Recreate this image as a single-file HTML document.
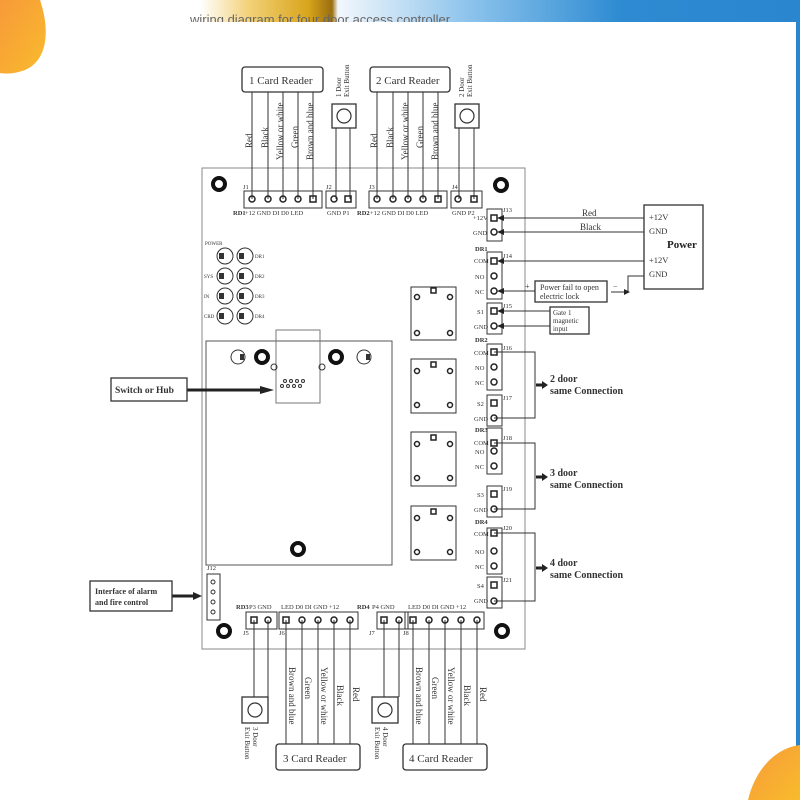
<!DOCTYPE html>
<html><head><meta charset="utf-8"><style>
html,body{margin:0;padding:0;background:#fff;}
svg{display:block;}
text{font-family:"Liberation Serif",serif;fill:#333;}
.s{font-family:"Liberation Sans",sans-serif;}
</style></head><body>
<svg width="800" height="800" viewBox="0 0 800 800" xmlns="http://www.w3.org/2000/svg">
<defs>
<linearGradient id="ban" x1="0" x2="1" y1="0" y2="0">
<stop offset="0" stop-color="#fff"/><stop offset="0.08" stop-color="#f3d27a"/><stop offset="0.18" stop-color="#d9a51c"/><stop offset="0.22" stop-color="#9a6e10"/><stop offset="0.23" stop-color="#f2f7fc"/><stop offset="0.45" stop-color="#8cc3ec"/><stop offset="0.7" stop-color="#2e8bd2"/><stop offset="1" stop-color="#2a86cf"/>
</linearGradient>
<linearGradient id="org" x1="0" x2="1" y1="0" y2="1"><stop offset="0" stop-color="#f79a3a"/><stop offset="1" stop-color="#f8bb2c"/></linearGradient>
</defs>
<rect x="200" y="0" width="600" height="22" fill="url(#ban)"/>
<rect x="796" y="22" width="4" height="778" fill="#2a86cf"/>
<path d="M0,0 L40,0 C50,30 48,60 25,70 C15,74 5,74 0,73 z" fill="url(#org)"/>
<path d="M800,745 C775,748 755,770 748,800 L800,800 z" fill="url(#org)"/>
<text x="190" y="24" class="s" font-size="13" style="fill:#666">wiring diagram for four door access controller</text>
<rect x="180" y="22" width="616" height="10" fill="#fff"/>

<g stroke="#333" fill="none" stroke-width="1">
<rect x="202" y="168" width="323" height="481" stroke="#888"/>
<rect x="206" y="341" width="186" height="224" stroke="#555"/>
<rect x="276" y="330" width="44" height="73" stroke="#777"/>
<rect x="411" y="287" width="45" height="53"/><rect x="411" y="359" width="45" height="54"/><rect x="411" y="432" width="45" height="54"/><rect x="411" y="506" width="45" height="54"/>
<rect x="244" y="191" width="78" height="17"/><rect x="326" y="191" width="30" height="17"/><rect x="369" y="191" width="78" height="17"/><rect x="451" y="191" width="31" height="17"/>
<rect x="487" y="209" width="15" height="32"/><rect x="487" y="252" width="15" height="47"/><rect x="487" y="303" width="15" height="31"/>
<rect x="487" y="344" width="15" height="46"/><rect x="487" y="395" width="15" height="31"/>
<rect x="487" y="428" width="15" height="46"/><rect x="487" y="486" width="15" height="31"/>
<rect x="487" y="528" width="15" height="46"/><rect x="487" y="577" width="15" height="31"/>
<rect x="246" y="612" width="31" height="17"/><rect x="279" y="612" width="79" height="17"/><rect x="377" y="612" width="31" height="17"/><rect x="405" y="612" width="79" height="17"/>
<rect x="207" y="574" width="13" height="46"/>
<path d="M252,92V199M268,92V199M283,92V199M298,92V199M313,92V199M377,92V199M393,92V199M408,92V199M423,92V199M438,92V199"/>
<path d="M336,128V199M350,128V199M459,128V199M474,128V199"/>
<path d="M254,620V697M268,620V697M286,620V744M302,620V744M318,620V744M334,620V744M350,620V744M384,620V697M399,620V697M413,620V744M429,620V744M445,620V744M461,620V744M477,620V744"/>
<path d="M494,352H535V418H494M494,443H535V509H494M494,533H535V601H494"/>
<path d="M644,218H500M644,232H500M644,261H500M644,276H628V292H611M535,291H500M550,311H500M550,326H500"/>
</g>
<g fill="#222">
<polygon points="497,218 504,215 504,221"/><polygon points="497,232 504,229 504,235"/><polygon points="497,261 504,258 504,264"/>
<polygon points="497,291 504,288 504,294"/><polygon points="497,311 504,308 504,314"/><polygon points="497,326 504,323 504,329"/>
<polygon points="630,292 624,289 624,295"/>
</g>
<g stroke="#222" stroke-width="3" fill="none">
<path d="M536,385H543M536,477H543M536,568H543M187,390H262M172,596H194"/>
</g>
<g fill="#222">
<polygon points="548,385 542,381 542,389"/><polygon points="548,477 542,473 542,481"/><polygon points="548,568 542,564 542,572"/>
<polygon points="274,390 260,386 260,394"/><polygon points="202,596 193,592 193,600"/>
</g>
<g fill="#fff" stroke="#333" stroke-width="1.3">
<rect x="242" y="67" width="81" height="25" rx="3"/><rect x="370" y="67" width="80" height="25" rx="3"/>
<rect x="332" y="104" width="24" height="24"/><rect x="455" y="104" width="24" height="24"/>
<rect x="276" y="744" width="84" height="26" rx="3"/><rect x="403" y="744" width="84" height="26" rx="3"/>
<rect x="242" y="697" width="26" height="26"/><rect x="372" y="697" width="26" height="26"/>
<rect x="644" y="205" width="59" height="84"/>
<rect x="535" y="281" width="72" height="21"/><rect x="550" y="307" width="39" height="27"/>
<rect x="111" y="378" width="76" height="23"/><rect x="90" y="581" width="82" height="30"/>
</g>
<g fill="none" stroke="#333" stroke-width="1.2">
<circle cx="344" cy="116" r="7"/><circle cx="467" cy="116" r="7"/><circle cx="255" cy="710" r="7"/><circle cx="385" cy="710" r="7"/>
</g>
<g fill="none" stroke="#111" stroke-width="4">
<circle cx="219" cy="184" r="6"/><circle cx="501" cy="185" r="6"/><circle cx="262" cy="357" r="6"/><circle cx="336" cy="357" r="6"/><circle cx="298" cy="549" r="6"/><circle cx="224" cy="631" r="6"/><circle cx="502" cy="631" r="6"/>
</g>
<g fill="none" stroke="#222" stroke-width="1.5">
<circle cx="252" cy="199" r="3"/><circle cx="268" cy="199" r="3"/><circle cx="283" cy="199" r="3"/><circle cx="298" cy="199" r="3"/><rect x="310" y="196" width="6" height="6"/>
<circle cx="334" cy="199" r="3"/><rect x="345" y="196" width="6" height="6"/>
<circle cx="377" cy="199" r="3"/><circle cx="393" cy="199" r="3"/><circle cx="408" cy="199" r="3"/><circle cx="423" cy="199" r="3"/><rect x="435" y="196" width="6" height="6"/>
<circle cx="458" cy="199" r="3"/><rect x="471" y="196" width="6" height="6"/>
<rect x="491" y="215" width="6" height="6"/><circle cx="494" cy="232" r="3"/>
<rect x="491" y="258" width="6" height="6"/><circle cx="494" cy="276" r="3"/><circle cx="494" cy="291" r="3"/>
<rect x="491" y="308" width="6" height="6"/><circle cx="494" cy="326" r="3"/>
<rect x="491" y="349" width="6" height="6"/><circle cx="494" cy="367" r="3"/><circle cx="494" cy="382" r="3"/>
<rect x="491" y="400" width="6" height="6"/><circle cx="494" cy="418" r="3"/>
<rect x="491" y="440" width="6" height="6"/><circle cx="494" cy="451" r="3"/><circle cx="494" cy="466" r="3"/>
<rect x="491" y="491" width="6" height="6"/><circle cx="494" cy="509" r="3"/>
<rect x="491" y="530" width="6" height="6"/><circle cx="494" cy="551" r="3"/><circle cx="494" cy="566" r="3"/>
<rect x="491" y="582" width="6" height="6"/><circle cx="494" cy="601" r="3"/>
<rect x="251" y="617" width="6" height="6"/><circle cx="268" cy="620" r="3"/>
<rect x="283" y="617" width="6" height="6"/><circle cx="302" cy="620" r="3"/><circle cx="318" cy="620" r="3"/><circle cx="334" cy="620" r="3"/><circle cx="350" cy="620" r="3"/>
<rect x="381" y="617" width="6" height="6"/><circle cx="399" cy="620" r="3"/>
<rect x="410" y="617" width="6" height="6"/><circle cx="429" cy="620" r="3"/><circle cx="445" cy="620" r="3"/><circle cx="461" cy="620" r="3"/><circle cx="477" cy="620" r="3"/>
<circle cx="417" cy="297" r="2.5"/><circle cx="450" cy="297" r="2.5"/><circle cx="417" cy="333" r="2.5"/><circle cx="450" cy="333" r="2.5"/><rect x="431" y="288" width="5" height="5"/>
<circle cx="417" cy="371" r="2.5"/><circle cx="450" cy="371" r="2.5"/><circle cx="417" cy="405" r="2.5"/><circle cx="450" cy="405" r="2.5"/><rect x="431" y="362" width="5" height="5"/>
<circle cx="417" cy="444" r="2.5"/><circle cx="450" cy="444" r="2.5"/><circle cx="417" cy="478" r="2.5"/><circle cx="450" cy="478" r="2.5"/><rect x="431" y="435" width="5" height="5"/>
<circle cx="417" cy="518" r="2.5"/><circle cx="450" cy="518" r="2.5"/><circle cx="417" cy="552" r="2.5"/><circle cx="450" cy="552" r="2.5"/><rect x="431" y="509" width="5" height="5"/>
</g>
<g fill="none" stroke="#333" stroke-width="1">
<circle cx="225" cy="256" r="8"/><circle cx="245" cy="256" r="8"/><circle cx="225" cy="276" r="8"/><circle cx="245" cy="276" r="8"/><circle cx="225" cy="296" r="8"/><circle cx="245" cy="296" r="8"/><circle cx="225" cy="316" r="8"/><circle cx="245" cy="316" r="8"/>
<circle cx="238" cy="357" r="7"/><circle cx="364" cy="357" r="7"/>
<circle cx="285" cy="381" r="1.5"/><circle cx="291" cy="381" r="1.5"/><circle cx="297" cy="381" r="1.5"/><circle cx="303" cy="381" r="1.5"/><circle cx="282" cy="386" r="1.5"/><circle cx="288" cy="386" r="1.5"/><circle cx="294" cy="386" r="1.5"/><circle cx="300" cy="386" r="1.5"/>
<circle cx="274" cy="367" r="3"/><circle cx="322" cy="367" r="3"/>
<circle cx="213" cy="582" r="2"/><circle cx="213" cy="592" r="2"/><circle cx="213" cy="602" r="2"/><circle cx="213" cy="612" r="2"/>
</g>
<g fill="#333">
<rect x="219" y="253" width="5" height="6"/><rect x="239" y="253" width="5" height="6"/><rect x="219" y="273" width="5" height="6"/><rect x="239" y="273" width="5" height="6"/>
<rect x="219" y="293" width="5" height="6"/><rect x="239" y="293" width="5" height="6"/><rect x="219" y="313" width="5" height="6"/><rect x="239" y="313" width="5" height="6"/>
<rect x="240" y="354" width="4" height="6"/><rect x="366" y="354" width="4" height="6"/>
</g>
<g class="s" font-size="5" style="fill:#333">
<text x="205" y="245">POWER</text><text x="204" y="278">SYS</text><text x="204" y="298">IN</text><text x="204" y="318">CRD</text>
<text x="255" y="258">DR1</text><text x="255" y="278">DR2</text><text x="255" y="298">DR3</text><text x="255" y="318">DR4</text>
</g>
<g class="s" font-size="6.5" style="fill:#222">
<text x="243" y="189">J1</text><text x="326" y="189">J2</text><text x="369" y="189">J3</text><text x="452" y="189">J4</text>
<text x="233" y="215" font-weight="bold">RD1</text><text x="245" y="215">+12 GND  DI    D0  LED</text><text x="327" y="215">GND  P1</text>
<text x="357" y="215" font-weight="bold">RD2</text><text x="370" y="215">+12 GND  DI    D0  LED</text><text x="452" y="215">GND  P2</text>
<text x="503" y="212">J13</text><text x="503" y="258">J14</text><text x="503" y="308">J15</text><text x="503" y="350">J16</text><text x="503" y="400">J17</text><text x="503" y="440">J18</text><text x="503" y="491">J19</text><text x="503" y="530">J20</text><text x="503" y="582">J21</text>
<text x="473" y="220">+12V</text><text x="473" y="235">GND</text><text x="475" y="251" font-weight="bold">DR1</text>
<text x="474" y="263">COM</text><text x="475" y="279">NO</text><text x="475" y="294">NC</text><text x="477" y="314">S1</text><text x="474" y="329">GND</text>
<text x="475" y="342" font-weight="bold">DR2</text><text x="474" y="355">COM</text><text x="475" y="370">NO</text><text x="475" y="385">NC</text><text x="477" y="406">S2</text><text x="474" y="421">GND</text>
<text x="475" y="432" font-weight="bold">DR3</text><text x="474" y="445">COM</text><text x="475" y="454">NO</text><text x="475" y="469">NC</text><text x="477" y="497">S3</text><text x="474" y="512">GND</text>
<text x="475" y="524" font-weight="bold">DR4</text><text x="474" y="536">COM</text><text x="475" y="554">NO</text><text x="475" y="569">NC</text><text x="477" y="588">S4</text><text x="474" y="603">GND</text>
<text x="236" y="609" font-weight="bold">RD3</text><text x="249" y="609">P3  GND</text><text x="281" y="609">LED   D0    DI   GND  +12</text>
<text x="357" y="609" font-weight="bold">RD4</text><text x="372" y="609">P4  GND</text><text x="408" y="609">LED   D0    DI   GND  +12</text>
<text x="243" y="635">J5</text><text x="279" y="635">J6</text><text x="369" y="635">J7</text><text x="403" y="635">J8</text>
<text x="207" y="570">J12</text>
</g>
<g font-size="11">
<text x="249" y="84">1 Card Reader</text><text x="376" y="84">2 Card Reader</text>
<text x="283" y="762">3 Card Reader</text><text x="409" y="762">4 Card Reader</text>
</g>
<g font-size="9" style="fill:#555">
<text x="582" y="216">Red</text><text x="580" y="230">Black</text>
<text x="525" y="289" font-size="8">+</text><text x="613" y="289" font-size="8">−</text>
<text x="540" y="290" font-size="8">Power fail to open</text><text x="540" y="299" font-size="8">electric lock</text>
<text x="553" y="315" font-size="7">Gate 1</text><text x="553" y="323" font-size="7">magnetic</text><text x="553" y="331" font-size="7">input</text>
</g>
<g font-size="8.5" style="fill:#222">
<text x="649" y="220">+12V</text><text x="649" y="234">GND</text><text x="649" y="263">+12V</text><text x="649" y="277">GND</text>
</g>
<text x="667" y="248" font-size="11" font-weight="bold" style="fill:#222">Power</text>
<g font-size="10" font-weight="bold" style="fill:#222">
<text x="550" y="382">2 door</text><text x="550" y="394">same Connection</text>
<text x="550" y="476">3 door</text><text x="550" y="488">same Connection</text>
<text x="550" y="566">4 door</text><text x="550" y="578">same Connection</text>
<text x="115" y="393" font-size="9.5">Switch or Hub</text>
</g>
<g class="s" font-size="8" font-weight="bold" style="fill:#222"><text x="95" y="594">Interface of alarm</text><text x="95" y="605">and fire control</text></g>
<g font-size="9" style="fill:#555">
<text transform="translate(252,148) rotate(-90)">Red</text>
<text transform="translate(268,148) rotate(-90)">Black</text>
<text transform="translate(283,160) rotate(-90)">Yellow or white</text>
<text transform="translate(298,148) rotate(-90)">Green</text>
<text transform="translate(313,160) rotate(-90)">Brown and blue</text>
<text transform="translate(377,148) rotate(-90)">Red</text>
<text transform="translate(393,148) rotate(-90)">Black</text>
<text transform="translate(408,160) rotate(-90)">Yellow or white</text>
<text transform="translate(423,148) rotate(-90)">Green</text>
<text transform="translate(438,160) rotate(-90)">Brown and blue</text>
<text transform="translate(289,667) rotate(90)">Brown and blue</text>
<text transform="translate(305,677) rotate(90)">Green</text>
<text transform="translate(321,667) rotate(90)">Yellow or white</text>
<text transform="translate(337,685) rotate(90)">Black</text>
<text transform="translate(353,687) rotate(90)">Red</text>
<text transform="translate(416,667) rotate(90)">Brown and blue</text>
<text transform="translate(432,677) rotate(90)">Green</text>
<text transform="translate(448,667) rotate(90)">Yellow or white</text>
<text transform="translate(464,685) rotate(90)">Black</text>
<text transform="translate(480,687) rotate(90)">Red</text>
</g>
<g font-size="7" style="fill:#555">
<text transform="translate(341,97) rotate(-90)">1 Door</text><text transform="translate(349,97) rotate(-90)">Exit Button</text>
<text transform="translate(464,97) rotate(-90)">2 Door</text><text transform="translate(472,97) rotate(-90)">Exit Button</text>
<text transform="translate(253,727) rotate(90)">3 Door</text><text transform="translate(245,727) rotate(90)">Exit Button</text>
<text transform="translate(383,727) rotate(90)">4 Door</text><text transform="translate(375,727) rotate(90)">Exit Button</text>
</g>
</svg>
</body></html>
